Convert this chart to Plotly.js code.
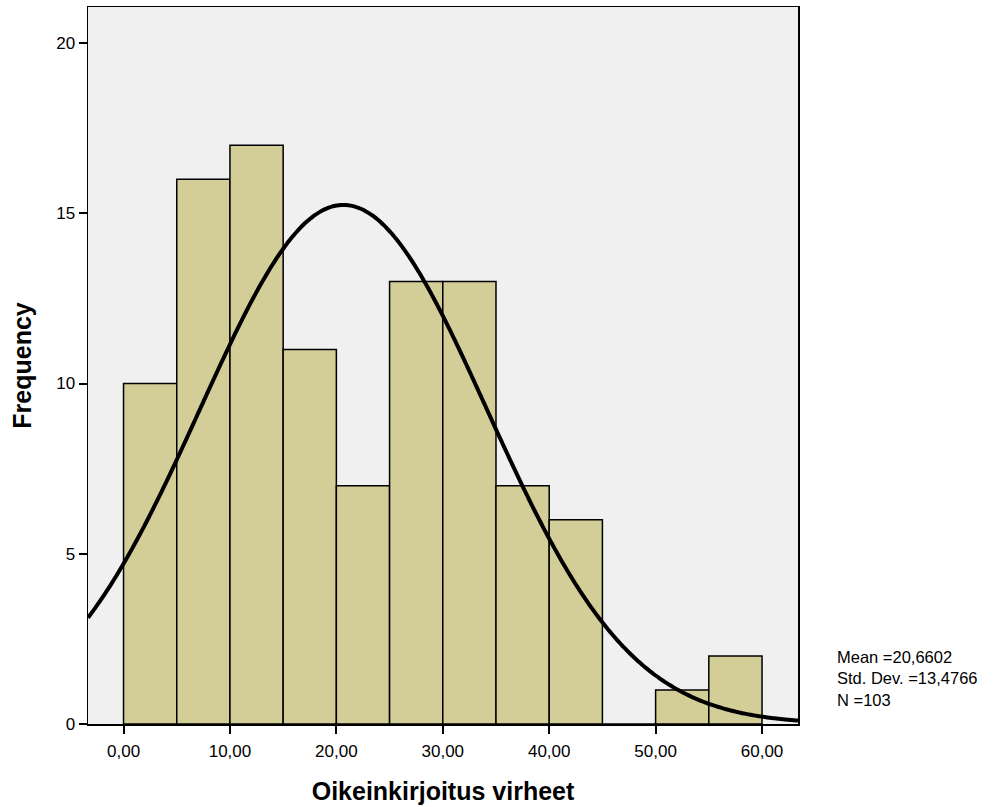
<!DOCTYPE html>
<html><head><meta charset="utf-8">
<script src="https://cdn.plot.ly/plotly-3.0.1.min.js"></script>
<style>body{margin:0;padding:0;background:#fff}#chart{width:1005px;height:807px}</style>
</head><body><div id="chart"></div>
<script>
// Histogram bins (lower edges) and frequencies
const binStarts = [0, 5, 10, 15, 20, 25, 30, 35, 40, 45, 50, 55];
const frequencies = [10, 16, 17, 11, 7, 13, 13, 7, 6, 0, 1, 2];
const binWidth = 5;
// Summary statistics shown on the chart
const meanValue = 20.6602;
const stdDev = 13.4766;
const nValue = 103;
const xTickVals = [0, 10, 20, 30, 40, 50, 60];
const xTickText = ["0,00", "10,00", "20,00", "30,00", "40,00", "50,00", "60,00"];
const yTickVals = [0, 5, 10, 15, 20];

const xMin = -3.34, xMax = 63.38;
// Normal curve implied by the displayed mean, std. dev. and N
const curveX = [], curveY = [];
for (let i = 0; i <= 300; i++) {
  const x = xMin + (xMax - xMin) * i / 300;
  const z = (x - meanValue) / stdDev;
  curveX.push(x);
  curveY.push(nValue * binWidth * Math.exp(-0.5 * z * z) / (stdDev * Math.sqrt(2 * Math.PI)));
}

const bars = {
  type: 'bar',
  x: binStarts.map(b => b + binWidth / 2),
  y: frequencies,
  width: binWidth,
  marker: {color: '#d3ce98', line: {color: '#000', width: 1.5}},
  hoverinfo: 'skip'
};
const curve = {
  type: 'scatter', mode: 'lines', x: curveX, y: curveY,
  line: {color: '#000', width: 4, shape: 'spline'}, hoverinfo: 'skip'
};

const layout = {
  width: 1005, height: 807,
  margin: {l: 88, r: 207, t: 7, b: 83},
  paper_bgcolor: '#fff', plot_bgcolor: '#f0f0f0',
  showlegend: false,
  bargap: 0,
  font: {family: 'Liberation Sans, Arial, sans-serif', color: '#000'},
  xaxis: {
    range: [xMin, xMax], tickvals: xTickVals, ticktext: xTickText,
    ticks: 'outside', ticklen: 8, tickwidth: 2, tickcolor: '#000',
    ticklabelstandoff: 3,
    showgrid: false, zeroline: false,
    showline: true, linecolor: '#000', linewidth: 1.5, mirror: true,
    tickfont: {size: 17},
    title: {text: '<b>Oikeinkirjoitus virheet</b>', font: {size: 25}, standoff: 22}
  },
  yaxis: {
    range: [0, 21.06], tickvals: yTickVals,
    ticks: 'outside', ticklen: 8, tickwidth: 2, tickcolor: '#000',
    showgrid: false, zeroline: false,
    showline: true, linecolor: '#000', linewidth: 1.5, mirror: true,
    tickfont: {size: 17},
    title: {text: '<b>Frequency</b>', font: {size: 25}, standoff: 17}
  },
  annotations: [{
    xref: 'paper', yref: 'paper', x: 1.052, y: 0.064, xanchor: 'left', yanchor: 'middle',
    align: 'left', showarrow: false,
    text: 'Mean =20,6602<br>Std. Dev. =13,4766<br>N =103',
    font: {size: 16.5}
  }]
};
Plotly.newPlot('chart', [bars, curve], layout, {staticPlot: true});
</script></body></html>
